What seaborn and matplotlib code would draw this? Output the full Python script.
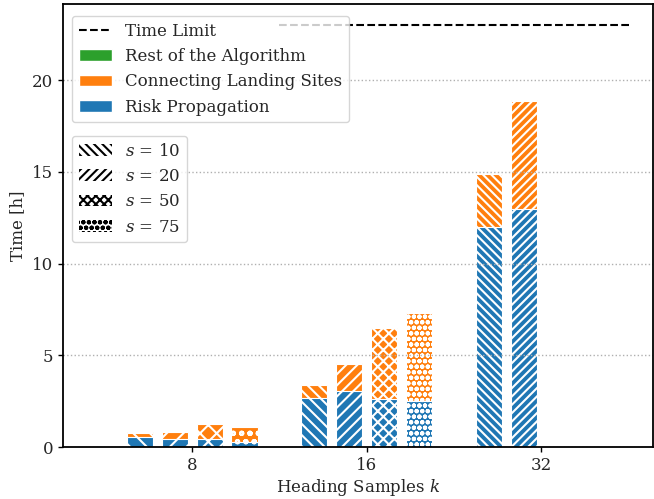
import matplotlib
matplotlib.use("Agg")
import matplotlib.pyplot as plt
from matplotlib.lines import Line2D
from matplotlib.patches import Patch
import numpy as np
import pandas as pd
import seaborn as sns

# values, hours
k_values = ["8", "16", "32"]
s_values = [10, 20, 50, 75]
run_k = ["8", "8", "8", "8", "16", "16", "16", "16", "32", "32"]
run_s = [10, 20, 50, 75, 10, 20, 50, 75, 10, 20]
risk_prop = [0.55, 0.46, 0.46, 0.27, 2.67, 3.06, 2.64, 2.49, 11.97, 12.95]
connect_sites = [0.24, 0.36, 0.78, 0.80, 0.70, 1.49, 3.82, 4.79, 2.91, 5.93]
rest_algo = [0.01, 0.01, 0.01, 0.01, 0.01, 0.01, 0.01, 0.01, 0.01, 0.01]
time_limit = 23.0

hatch_base = {10: "\\", 20: "/", 50: "x", 75: "o"}
hatch_mult = [2, 3, 4]  # pattern gets denser with k

C_RISK, C_CONN, C_REST = "#1f77b4", "#ff7f0e", "#2ca02c"

sns.set_theme(style="ticks", rc={"axes.axisbelow": "line"})
plt.rcParams["font.family"] = ["DejaVu Serif"]
plt.rcParams["mathtext.fontset"] = "dejavuserif"
plt.rcParams["font.size"] = 12
plt.rcParams["hatch.linewidth"] = 1.5

df = pd.DataFrame({"k": run_k, "s": run_s, "risk": risk_prop,
                   "conn": connect_sites, "rest": rest_algo})
df["lvl_conn"] = df["risk"] + df["conn"]
df["lvl_rest"] = df["lvl_conn"] + df["rest"]

fig = plt.figure(figsize=(6.54, 4.99), dpi=100)
ax = fig.add_axes([0.0963, 0.1042, 0.9022, 0.888])

# stacked bars: draw the cumulative levels from top to bottom
layers = [("lvl_rest", C_REST), ("lvl_conn", C_CONN), ("risk", C_RISK)]
for col, color in layers:
    n0 = len(ax.containers)
    sns.barplot(data=df, x="k", y=col, hue="s", order=k_values, hue_order=s_values,
                palette=[color] * len(s_values), dodge=True, gap=0.25,
                errorbar=None, legend=False, edgecolor="white", linewidth=0.8,
                saturation=1, ax=ax)
    for si, cont in enumerate(ax.containers[n0:]):
        for bar in cont:
            ki = int(round(bar.get_x() + bar.get_width() / 2))
            bar.set_hatch(hatch_base[s_values[si]] * hatch_mult[ki])

ax.hlines(time_limit, 0.5, 2.5, colors="black", linestyles="--", linewidth=1.5, zorder=3)

ax.set_xlim(-0.74, 2.64)
ax.set_ylim(0, time_limit * 1.05)
ax.set_yticks([0, 5, 10, 15, 20])
ax.yaxis.grid(True, linestyle=":", color="#b0b0b0", linewidth=1)
ax.set_xlabel("Heading Samples $k$", fontsize=12, labelpad=2)
ax.set_ylabel("Time [h]", fontsize=12)
ax.tick_params(labelsize=12, length=3.5, width=1, color="black")
for sp in ax.spines.values():
    sp.set_color("black")
    sp.set_linewidth(1.3)

comp_handles = [
    Line2D([0], [0], color="black", linestyle="--", linewidth=1.5),
    Patch(facecolor=C_REST),
    Patch(facecolor=C_CONN),
    Patch(facecolor=C_RISK),
]
comp_labels = ["Time Limit", "Rest of the Algorithm", "Connecting Landing Sites",
               "Risk Propagation"]
leg1 = ax.legend(comp_handles, comp_labels, loc="upper left", fontsize=12,
                 bbox_to_anchor=(0.0153, 0.973), borderaxespad=0, handlelength=2.0)
ax.add_artist(leg1)

s_hatch_leg = {10: "\\\\\\\\", 20: "////", 50: "xxxx", 75: "ooo"}
s_handles = [Patch(facecolor="white", edgecolor="black", linewidth=0,
                   hatch=s_hatch_leg[s]) for s in s_values]
s_labels = [f"$s$ = {s}" for s in s_values]
ax.legend(s_handles, s_labels, loc="upper left", fontsize=12,
          bbox_to_anchor=(0.0153, 0.702), borderaxespad=0, handlelength=2.0)

fig.savefig("out.png", dpi=100)
